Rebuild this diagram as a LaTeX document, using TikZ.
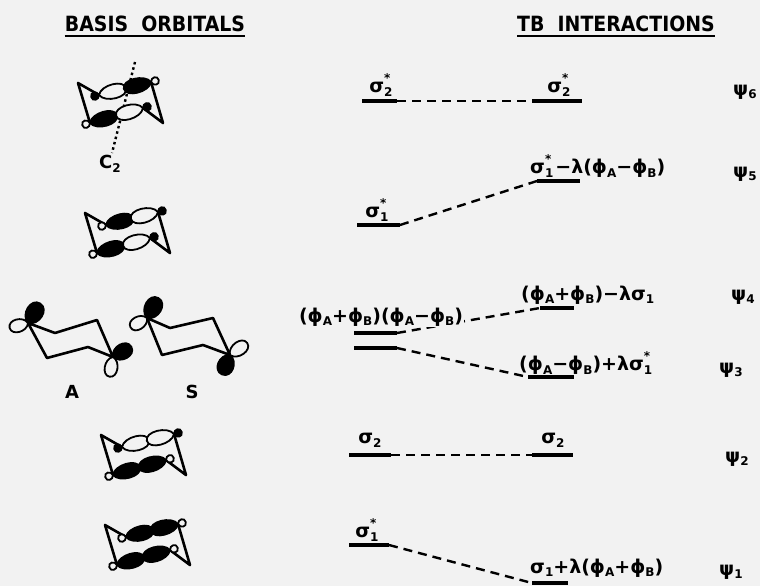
\documentclass[tikz,border=0pt]{standalone}
\usepackage{fontspec}
\usepackage{graphicx}
\setmainfont{DejaVu Sans}
\usetikzlibrary{calc}
\definecolor{paper}{gray}{0.95}

% sub- and superscripts for the level labels
\newcommand\lo[1]{\raisebox{-0.35ex}{\fontsize{12}{12}\selectfont #1}}
\newcommand\sh[2]{\makebox[0pt][l]{\raisebox{1.0ex}{\fontsize{12}{12}\selectfont #2}}\raisebox{-0.35ex}{\fontsize{12}{12}\selectfont #1}\hspace{2pt}}

% one orbital lobe: point, direction (image angle), length, width, fill
\newcommand\lobe[5]{\begin{scope}[shift={#1},rotate={-(#2)}]
  \draw[lobeline,fill=#5] (0,0) .. controls (0.15*#3,#4) and (#3,#4) .. (#3,0)
     .. controls (#3,-#4) and (0.15*#3,-#4) .. cycle;
\end{scope}}
% hybrid orbital: point, direction, big lobe fill, back lobe fill
\newcommand\hyb[4]{\lobe{#1}{#2+180}{8}{5}{#4}\lobe{#1}{#2}{28}{9.5}{#3}}
% bicyclic cage with its two sigma bonds
\newcommand\cage[8]{%
  \draw[bond] (21,12) -- (0,0) -- (12,40);
  \draw[bond] (73,-1) -- (85,40) -- (65,25);
  \hyb{(21,12)}{-14}{#2}{#1}\hyb{(73,-1)}{166}{#3}{#4}
  \hyb{(12,40)}{-16}{#6}{#5}\hyb{(65,25)}{164}{#7}{#8}}

\begin{document}
\begin{tikzpicture}[x=1pt,y=-1pt,
  bar/.style={line width=3.2pt},
  link/.style={line width=2.4pt, dash pattern=on 9pt off 6pt},
  bond/.style={line width=2.6pt, line join=round, line cap=round},
  lobeline/.style={line width=1.8pt},
  lbl/.style={font=\fontsize{19}{19}\selectfont\bfseries, inner sep=0pt},
  title/.style={font=\fontsize{21}{21}\selectfont\bfseries, inner sep=0pt},
  psi/.style={font=\fontsize{19}{19}\selectfont\bfseries, inner sep=0pt},
  tag/.style={font=\fontsize{18}{18}\selectfont\bfseries, inner sep=0pt}]
\useasboundingbox[fill=paper] (0,0) rectangle (760,586);

% headings
\node[title] (tbasis) at (155,24) {\scalebox{0.9}[1]{BASIS\ \ ORBITALS}};
\node[title] (ttb) at (616,24) {\scalebox{0.9}[1]{TB\ \ INTERACTIONS}};
\draw[line width=1.8pt] ($(tbasis.south west)+(0,4)$) -- ($(tbasis.south east)+(0,4)$);
\draw[line width=1.8pt] ($(ttb.south west)+(0,4)$) -- ($(ttb.south east)+(0,4)$);

% basis orbitals: sigma2*, with the C2 axis
\draw[line width=2.4pt, dash pattern=on 2.5pt off 3pt] (135,62) -- (112,153);
\begin{scope}[shift={(78,83)}]
  \cage{black}{paper}{black}{paper}{paper}{black}{paper}{black}
\end{scope}
\node[tag] (c2) at (110,164) {C\lo{2}};
% sigma1*
\begin{scope}[shift={(85,213)}]
  \cage{paper}{black}{paper}{black}{paper}{black}{paper}{black}
\end{scope}
% sigma2
\begin{scope}[shift={(101,435)}]
  \cage{black}{paper}{paper}{black}{paper}{black}{black}{paper}
\end{scope}
% sigma1
\begin{scope}[shift={(105,525)}]
  \cage{paper}{black}{black}{paper}{paper}{black}{black}{paper}
\end{scope}

% chair with the two ribbon p orbitals, combination A
\draw[bond] (28,323) -- (55,333) -- (97,320) -- (113,357) -- (88,347) -- (47,358) -- cycle;
\lobe{(28,323)}{-58}{23}{11}{black}
\lobe{(28,323)}{165}{19}{8.5}{paper}
\lobe{(113,357)}{-29}{21}{10}{black}
\lobe{(113,357)}{100}{20}{8.5}{paper}
\node[tag] (labA) at (72,392) {A};
% combination S
\draw[bond] (147,318) -- (170,328) -- (213,318) -- (230,355) -- (203,345) -- (162,355) -- cycle;
\lobe{(147,318)}{-60}{23}{11}{black}
\lobe{(147,318)}{150}{19}{8.5}{paper}
\lobe{(230,355)}{-35}{21}{9}{paper}
\lobe{(230,355)}{112}{21}{10.5}{black}
\node[tag] (labS) at (192,392) {S};

% ---- interaction diagram ----
% psi6
\coordinate (l6a) at (362,101); \coordinate (l6b) at (397,101);
\coordinate (r6a) at (532,101); \coordinate (r6b) at (582,101);
\draw[bar] (l6a) -- (l6b); \draw[bar] (r6a) -- (r6b);
\draw[link] (l6b) -- (r6a);
\node[lbl] (s6l) at (381,85) {σ\sh{2}{*}};
\node[lbl] (s6r) at (559,85) {σ\sh{2}{*}};
\node[psi, anchor=west] (psi6) at (733,92) {ψ\lo{6}};

% psi5
\coordinate (l5a) at (357,225); \coordinate (l5b) at (400,225);
\coordinate (r5a) at (537,181); \coordinate (r5b) at (580,181);
\draw[bar] (l5a) -- (l5b); \draw[bar] (r5a) -- (r5b);
\draw[link] (l5b) -- (r5a);
\node[lbl] (s5l) at (377,210) {σ\sh{1}{*}};
\node[lbl, anchor=west] (s5r) at (530,166) {σ\sh{1}{*}−λ(ϕ\lo{A}−ϕ\lo{B})};
\node[psi, anchor=west] (psi5) at (733,174) {ψ\lo{5}};

% psi4 and psi3 from the ribbon combinations
\coordinate (la) at (354,333); \coordinate (lb) at (397,333);
\coordinate (lc) at (354,348); \coordinate (ld) at (397,348);
\coordinate (r4a) at (540,308); \coordinate (r4b) at (574,308);
\coordinate (r3a) at (528,377); \coordinate (r3b) at (574,377);
\draw[bar] (la) -- (lb); \draw[bar] (lc) -- (ld);
\draw[bar] (r4a) -- (r4b); \draw[bar] (r3a) -- (r3b);
\draw[link] (lb) -- (r4a);
\draw[link] (ld) -- (r3a);
\node[lbl, fill=paper, inner sep=1pt] (rib) at (381,317) {(ϕ\lo{A}+ϕ\lo{B})(ϕ\lo{A}−ϕ\lo{B})};
\node[lbl, anchor=west] (s4r) at (521,295) {(ϕ\lo{A}+ϕ\lo{B})−λσ\lo{1}};
\node[lbl, anchor=west] (s3r) at (519,363) {(ϕ\lo{A}−ϕ\lo{B})+λσ\sh{1}{*}};
\node[psi, anchor=west] (psi4) at (731,297) {ψ\lo{4}};
\node[psi, anchor=west] (psi3) at (719,370) {ψ\lo{3}};

% psi2
\coordinate (l2a) at (349,455); \coordinate (l2b) at (391,455);
\coordinate (r2a) at (532,455); \coordinate (r2b) at (573,455);
\draw[bar] (l2a) -- (l2b); \draw[bar] (r2a) -- (r2b);
\draw[link] (l2b) -- (r2a);
\node[lbl] (s2l) at (370,440) {σ\lo{2}};
\node[lbl] (s2r) at (553,440) {σ\lo{2}};
\node[psi, anchor=west] (psi2) at (725,459) {ψ\lo{2}};

% psi1
\coordinate (l1a) at (349,545); \coordinate (l1b) at (389,545);
\coordinate (r1a) at (532,583); \coordinate (r1b) at (568,583);
\draw[bar] (l1a) -- (l1b); \draw[bar] (r1a) -- (r1b);
\draw[link] (l1b) -- (r1a);
\node[lbl] (s1l) at (367,530) {σ\sh{1}{*}};
\node[lbl, anchor=west] (s1r) at (530,568) {σ\lo{1}+λ(ϕ\lo{A}+ϕ\lo{B})};
\node[psi, anchor=west] (psi1) at (719,572) {ψ\lo{1}};
\end{tikzpicture}
\end{document}
